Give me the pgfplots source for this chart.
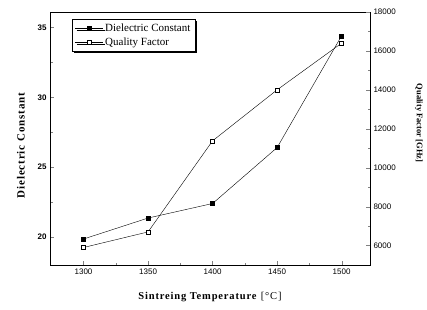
\documentclass[border=0pt]{standalone}
\usepackage{fontspec}
\setmainfont{Liberation Serif}
\newfontfamily\sansfont{Liberation Sans}
\newfontfamily\widefont[LetterSpace=8]{Liberation Serif}
\usepackage{pgfplots}
\pgfplotsset{compat=1.18}
\usetikzlibrary{shadows}
\begin{document}
\begin{tikzpicture}[x=1pt,y=1pt]
\path (-50,-44) rectangle (377,265);
\begin{axis}[
  at={(0,0)}, anchor=south west, scale only axis,
  width=320pt, height=253pt,
  xmin=1274, xmax=1522, ymin=18, ymax=36.1,
  xtick={1300,1350,1400,1450,1500},
  minor x tick num=1,
  ytick={20,25,30,35},
  minor y tick num=1,
  xtick pos=bottom, ytick pos=left,
  tick align=inside,
  major tick length=4pt, minor tick length=2.5pt,
  /pgf/number format/assume math mode=true,
  /pgf/number format/1000 sep={},
  ticklabel style={font=\sansfont\fontsize{8}{9}\selectfont},
  yticklabel style={font=\sansfont\bfseries\fontsize{8}{9}\selectfont},
  xlabel={\textbf{Sintreing Temperature} [°C]},
  xlabel style={at={(axis description cs:0.5,-0.126)}, anchor=center, font=\widefont\fontsize{10.5}{12}\selectfont},
  ylabel={\textbf{Dielectric Constant}},
  ylabel style={at={(axis description cs:-0.091,0.474)}, anchor=center, font=\widefont\fontsize{11}{13}\selectfont},
  legend image code/.code={
    \draw[mark repeat=2,mark phase=2,#1] plot coordinates {(0pt,0pt) (14pt,0pt) (28pt,0pt)};
  },
  legend style={at={(axis description cs:0.069,0.972)}, anchor=north west,
    draw=black, fill=white, font=\fontsize{11}{13}\selectfont,
    drop shadow={shadow xshift=1.8pt, shadow yshift=-1.8pt, fill=black, opacity=1},
    row sep=1pt, inner sep=2.5pt},
  legend cell align=left,
]
\addplot[black, thin, mark=square*, mark size=2pt, mark options={solid, fill=black}]
  coordinates {(1300,19.86) (1350,21.36) (1400,22.4) (1450,26.4) (1500,34.4)};
\addlegendentry{Dielectric Constant}
\addlegendimage{black, thin, mark=square*, mark size=2pt, mark options={solid, fill=white}}
\addlegendentry{Quality Factor}
\end{axis}
\begin{axis}[
  at={(0,0)}, anchor=south west, scale only axis,
  width=320pt, height=253pt,
  xmin=1274, xmax=1522, ymin=5000, ymax=18000,
  axis x line=none, axis y line*=right,
  scaled y ticks=false,
  ytick={6000,8000,10000,12000,14000,16000,18000},
  minor y tick num=1,
  tick align=inside,
  major tick length=4pt, minor tick length=2.5pt,
  /pgf/number format/assume math mode=true,
  /pgf/number format/1000 sep={},
  ticklabel style={font=\sansfont\fontsize{8}{9}\selectfont},
  ylabel={\textbf{Quality Factor [GHz]}},
  ylabel style={at={(axis description cs:1.153,0.561)}, anchor=center, rotate=180, font=\fontsize{8.5}{10}\selectfont},
]
\addplot[black, thin, mark=square*, mark size=2pt, mark options={solid, fill=white}]
  coordinates {(1300,5900) (1350,6700) (1400,11380) (1450,14000) (1500,16400)};
\end{axis}
\end{tikzpicture}
\end{document}
